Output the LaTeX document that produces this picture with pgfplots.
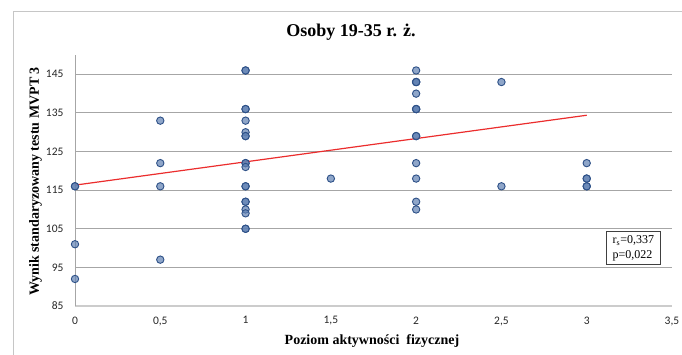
\documentclass[border=0pt]{standalone}
\usepackage{pgfplots}
\pgfplotsset{compat=1.18}
\usepackage{fontspec}
\setmainfont{Liberation Serif}
\newfontfamily\calibri{Carlito}
\definecolor{mfill}{RGB}{95,128,178}
\definecolor{medge}{RGB}{45,80,135}
\definecolor{trend}{RGB}{235,45,45}
\begin{document}
\begin{tikzpicture}[x=1pt,y=1pt]
\useasboundingbox (0,0) rectangle (682,354);
\draw[gray!45, line width=1pt] (700,342) -- (13,342) -- (13,-10);
\begin{axis}[
  at={(75pt,48pt)}, anchor=south west,
  scale only axis, width=597pt, height=251pt,
  xmin=0, xmax=3.5, ymin=85, ymax=150,
  axis x line=bottom, axis y line=left,
  x axis line style={-, gray!40, line width=1.5pt},
  y axis line style={-, gray!70, line width=0.8pt},
  xtick={0,0.5,1,1.5,2,2.5,3,3.5},
  ytick={85,95,105,115,125,135,145},
  major tick length=0pt,
  ymajorgrids, major grid style={gray!70, line width=0.9pt},
  /pgf/number format/use comma,
  /pgf/number format/assume math mode=true,
  tick label style={font=\calibri\fontsize{11.5}{13}\selectfont, text=black!85},
  yticklabel style={xshift=-8pt},
  xticklabel style={yshift=-7pt},
  clip=false,
]
\addplot[only marks, mark=*, mark size=3.7pt,
  mark options={fill=mfill, fill opacity=0.7, draw=medge, line width=0.9pt}]
  coordinates {
  (0,116) (0,116) (0,101) (0,92)
  (0.5,133) (0.5,122) (0.5,116) (0.5,97)
  (1,146) (1,146) (1,136) (1,136) (1,133) (1,130) (1,129) (1,129)
  (1,122) (1,122) (1,121) (1,116) (1,116) (1,112) (1,112) (1,110) (1,109) (1,105) (1,105)
  (1.5,118)
  (2,146) (2,143) (2,143) (2,143) (2,140) (2,136) (2,136) (2,136) (2,129) (2,129)
  (2,122) (2,118) (2,112) (2,110)
  (2.5,143) (2.5,116)
  (3,122) (3,118) (3,118) (3,116) (3,116)
  };
\addplot[trend, line width=1.2pt] coordinates {(0,116.3) (3,134.4)};
\node[draw=black!75, line width=0.8pt, anchor=north west, inner sep=2pt,
  minimum width=54pt, minimum height=33pt, align=left,
  font=\fontsize{12}{15}\selectfont] at (axis cs:3.113,104.4)
  {r\textsubscript{s}=0,337\\p=0,022};
\end{axis}
\node[font=\bfseries\fontsize{18}{20}\selectfont] at (351,322) {Osoby 19-35 r. ż.};
\node[font=\bfseries\fontsize{14}{16}\selectfont, rotate=90] at (35.5,172.5) {Wynik standaryzowany testu MVPT 3};
\node[font=\bfseries\fontsize{14}{16}\selectfont] at (372,13) {Poziom aktywności\ \ fizycznej};
\end{tikzpicture}
\end{document}
